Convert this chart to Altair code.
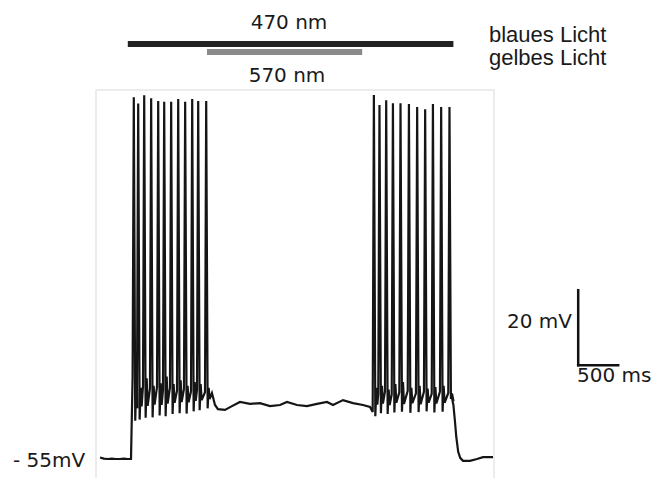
import altair as alt
import pandas as pd

# ---------------- data (time in ms, voltage in mV) ----------------
# light stimuli (ms)
stim_labels = ["470 nm", "570 nm"]
stim_start = [-40, 950]
stim_end = [4030, 2890]

# resting trace before light onset
pre_t = [-387, -340, -290, -240, -190, -140, -90, -40, 0]
pre_v = [-54.6, -54.9, -55.0, -54.9, -55.0, -55.0, -54.9, -55.0, -55.0]

# first burst (blue light alone)
b1_t = [20, 75, 150, 237, 325, 400, 487, 575, 662, 750, 825, 925]
b1_pre = [-33.0, -36.0, -35.5, -36.2, -35.8, -36.5, -36.0, -36.8, -36.3, -37.0, -36.6, -37.2]
b1_peak = [41.5, 39.8, 42.0, 41.2, 40.5, 40.3, 40.3, 41.0, 40.3, 41.0, 40.5, 40.5]
b1_trough = [-44.8, -44.5, -44.0, -43.9, -43.4, -43.6, -43.0, -42.8, -42.9, -42.3, -42.0, -41.5]
b1_hump = [-34.5, -36.0, -33.5, -35.5, -34.8, -33.0, -35.0, -34.0, -35.5, -34.5, -35.0, -36.0]
b1_dip = [-41.5, -41.0, -40.8, -40.5, -40.6, -40.2, -40.0, -39.8, -39.9, -39.5, -39.3, -39.0]

# plateau while yellow light is on
mid_t = [1012, 1050, 1087, 1175, 1262, 1362, 1487, 1612, 1737, 1862, 1950, 2075, 2200,
         2325, 2450, 2525, 2650, 2775, 2900, 2987]
mid_v = [-37.4, -40.6, -41.7, -41.9, -40.9, -39.8, -40.3, -40.1, -40.9, -40.6, -39.8, -40.6,
         -40.9, -40.3, -39.8, -40.6, -39.3, -40.1, -40.6, -41.1]

# second burst (after yellow light off)
b2_t = [3021, 3091, 3175, 3259, 3354, 3459, 3562, 3662, 3759, 3862, 3966]
b2_pre = [-42.5, -37.5, -37.0, -37.8, -37.2, -36.8, -37.5, -37.0, -37.6, -37.0, -37.4]
b2_peak = [42.1, 39.4, 40.7, 39.9, 39.9, 39.7, 38.9, 38.3, 39.7, 38.9, 38.9]
b2_trough = [-43.6, -42.8, -43.0, -42.6, -42.4, -42.7, -42.5, -42.3, -42.6, -42.4, -39.0]
b2_hump = [-36.0, -35.5, -36.5, -35.0, -34.5, -36.0, -35.5, -36.2, -35.8, -35.5, -37.5]
b2_dip = [-40.5, -40.2, -40.6, -40.0, -40.3, -40.1, -40.4, -40.0, -40.2, -40.0, -38.8]

# decay after light off
tail_t = [4010, 4030, 4048, 4066, 4090, 4115, 4150, 4237, 4325, 4400, 4525]
tail_v = [-38.5, -40.6, -44.6, -49.1, -53.1, -54.7, -55.5, -55.5, -55.0, -54.5, -54.5]

# scale bar (ms, mV)
bar_t = 5590
bar_v = -30
bar_ms = 500
bar_mv = 20

# ---------------- build the trace table ----------------
rows = []


def add(t, v):
    rows.append({"t": t, "v": v, "i": len(rows)})


for t, v in zip(pre_t, pre_v):
    add(t, v)


def add_burst(ts, pres, peaks, troughs, humps, dips):
    for t, p, pk, tr, hu, dp in zip(ts, pres, peaks, troughs, humps, dips):
        add(t, p)
        add(t + 15, pk)
        add(t + 33, tr)
        add(t + 46, hu)
        add(t + 58, dp)


add_burst(b1_t, b1_pre, b1_peak, b1_trough, b1_hump, b1_dip)
for t, v in zip(mid_t, mid_v):
    add(t, v)
add_burst(b2_t, b2_pre, b2_peak, b2_trough, b2_hump, b2_dip)
for t, v in zip(tail_t, tail_v):
    add(t, v)

trace = pd.DataFrame(rows)
stim = pd.DataFrame({"label": stim_labels, "start": stim_start, "end": stim_end})
sbar = pd.DataFrame({
    "t": [bar_t, bar_t], "t2": [bar_t, bar_t + bar_ms],
    "v": [bar_v + bar_mv, bar_v], "v2": [bar_v, bar_v],
})
one = pd.DataFrame({"a": [0]})

# ---------------- scales ----------------
xs = alt.Scale(domain=[-1537.5, 6512.5], nice=False, zero=False)
ys = alt.Scale(domain=[-60.07, 65.27], nice=False, zero=False)
SANS = "Liberation Sans"
WIDE = "DejaVu Sans"

frame = alt.Chart(one).mark_rect(filled=False, stroke="#e6e6e6", strokeWidth=1.5).encode(
    x=alt.value(88), x2=alt.value(486), y=alt.value(82), y2=alt.value(480)
)

line = alt.Chart(trace).mark_line(color="#151515", strokeWidth=2.2).encode(
    x=alt.X("t:Q", scale=xs, axis=None),
    y=alt.Y("v:Q", scale=ys, axis=None),
    order="i:Q",
)

stim_bars = alt.Chart(stim).mark_rule(strokeWidth=6, strokeCap="butt").encode(
    x=alt.X("start:Q", scale=xs, axis=None),
    x2="end:Q",
    y=alt.Y("label:N", axis=None,
            scale=alt.Scale(domain=stim_labels, range=[32, 48])),
    color=alt.Color("label:N", legend=None,
                    scale=alt.Scale(domain=stim_labels, range=["#222222", "#8a8a8a"])),
)

scalebar = alt.Chart(sbar).mark_rule(strokeWidth=2.5, color="#111111", strokeCap="square").encode(
    x=alt.X("t:Q", scale=xs, axis=None), x2="t2:Q",
    y=alt.Y("v:Q", scale=ys, axis=None), y2="v2:Q",
)


def txt(s, x, y, align="center", size=21, font=SANS):
    return alt.Chart(one).mark_text(
        text=s, align=align, baseline="middle", font=font, fontSize=size, color="#1a1a1a"
    ).encode(x=alt.value(x), y=alt.value(y))


texts = [
    txt("470 nm", 281, 15, size=20, font=WIDE),
    txt("570 nm", 279, 68, size=20, font=WIDE),
    txt("blaues Licht", 481, 27, "left", size=22),
    txt("gelbes Licht", 481, 50, "left", size=22),
    txt("20 mV", 564, 314, "right", size=20, font=WIDE),
    txt("500 ms", 569, 368, "left", size=20, font=WIDE),
    txt("- 55mV", 5, 453, "left", size=20, font=WIDE),
]

chart = alt.layer(frame, line, stim_bars, scalebar, *texts).properties(
    width=644, height=470, padding=0, autosize=alt.AutoSizeParams(type="none")
).configure_view(strokeWidth=0)

chart.save("out.html", embed_options={"renderer": "svg", "actions": False})
